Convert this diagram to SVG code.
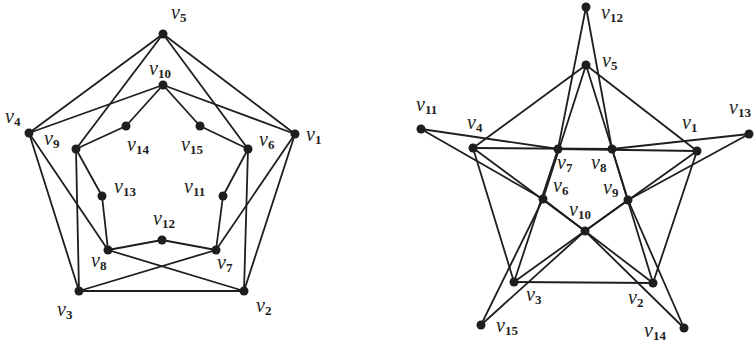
<svg xmlns="http://www.w3.org/2000/svg" width="756" height="345" viewBox="0 0 756 345">
<style>
.e{stroke:#1e1e1e;stroke-width:1.8;fill:none;stroke-linecap:round}
.n{fill:#1e1e1e}
.t{font-family:"Liberation Serif","DejaVu Serif",serif;font-style:italic;font-size:20px;fill:#1e1e1e}
.s{font-style:normal;font-weight:bold;font-size:13px}
</style>
<rect width="756" height="345" fill="#fff"/>
<g id="connectors-left">
<line class="e" x1="163" y1="34" x2="29" y2="133"/>
<line class="e" x1="163" y1="34" x2="295" y2="134"/>
<line class="e" x1="163" y1="34" x2="76" y2="149"/>
<line class="e" x1="163" y1="34" x2="248" y2="149"/>
<line class="e" x1="163" y1="85" x2="29" y2="133"/>
<line class="e" x1="163" y1="85" x2="295" y2="134"/>
<line class="e" x1="163" y1="85" x2="126" y2="126"/>
<line class="e" x1="163" y1="85" x2="200" y2="126"/>
<line class="e" x1="126" y1="126" x2="76" y2="149"/>
<line class="e" x1="200" y1="126" x2="248" y2="149"/>
<line class="e" x1="29" y1="133" x2="79" y2="291"/>
<line class="e" x1="29" y1="133" x2="108" y2="250"/>
<line class="e" x1="76" y1="149" x2="79" y2="291"/>
<line class="e" x1="76" y1="149" x2="102" y2="196"/>
<line class="e" x1="102" y1="196" x2="108" y2="250"/>
<line class="e" x1="108" y1="250" x2="162" y2="240"/>
<line class="e" x1="162" y1="240" x2="216" y2="250"/>
<line class="e" x1="108" y1="250" x2="244" y2="291"/>
<line class="e" x1="216" y1="250" x2="79" y2="291"/>
<line class="e" x1="79" y1="291" x2="244" y2="291"/>
<line class="e" x1="295" y1="134" x2="244" y2="291"/>
<line class="e" x1="295" y1="134" x2="216" y2="250"/>
<line class="e" x1="248" y1="149" x2="244" y2="291"/>
<line class="e" x1="248" y1="149" x2="223" y2="196"/>
<line class="e" x1="223" y1="196" x2="216" y2="250"/>
</g>
<g id="connectors-right">
<line class="e" x1="586" y1="65" x2="473" y2="148"/>
<line class="e" x1="586" y1="65" x2="697" y2="151"/>
<line class="e" x1="586" y1="65" x2="628" y2="200"/>
<line class="e" x1="586" y1="65" x2="543" y2="199"/>
<line class="e" x1="585" y1="231" x2="473" y2="148"/>
<line class="e" x1="585" y1="231" x2="697" y2="151"/>
<line class="e" x1="585" y1="231" x2="684" y2="328"/>
<line class="e" x1="585" y1="231" x2="481" y2="325"/>
<line class="e" x1="684" y1="328" x2="628" y2="200"/>
<line class="e" x1="481" y1="325" x2="543" y2="199"/>
<line class="e" x1="473" y1="148" x2="514" y2="282"/>
<line class="e" x1="473" y1="148" x2="612" y2="149"/>
<line class="e" x1="628" y1="200" x2="514" y2="282"/>
<line class="e" x1="628" y1="200" x2="749" y2="134"/>
<line class="e" x1="749" y1="134" x2="612" y2="149"/>
<line class="e" x1="612" y1="149" x2="586" y2="7"/>
<line class="e" x1="586" y1="7" x2="558" y2="149"/>
<line class="e" x1="612" y1="149" x2="653" y2="283"/>
<line class="e" x1="558" y1="149" x2="514" y2="282"/>
<line class="e" x1="514" y1="282" x2="653" y2="283"/>
<line class="e" x1="697" y1="151" x2="653" y2="283"/>
<line class="e" x1="697" y1="151" x2="558" y2="149"/>
<line class="e" x1="543" y1="199" x2="653" y2="283"/>
<line class="e" x1="543" y1="199" x2="421" y2="129"/>
<line class="e" x1="421" y1="129" x2="558" y2="149"/>
</g>
<g id="L-v1"><circle class="n" cx="295" cy="134" r="4.5"/><text class="t" x="306" y="141">v<tspan class="s" dy="3">1</tspan></text></g>
<g id="L-v2"><circle class="n" cx="244" cy="291" r="4.5"/><text class="t" x="256" y="312">v<tspan class="s" dy="3">2</tspan></text></g>
<g id="L-v3"><circle class="n" cx="79" cy="291" r="4.5"/><text class="t" x="57" y="316">v<tspan class="s" dy="3">3</tspan></text></g>
<g id="L-v4"><circle class="n" cx="29" cy="133" r="4.5"/><text class="t" x="5" y="123">v<tspan class="s" dy="3">4</tspan></text></g>
<g id="L-v5"><circle class="n" cx="163" cy="34" r="4.5"/><text class="t" x="171" y="19">v<tspan class="s" dy="3">5</tspan></text></g>
<g id="L-v6"><circle class="n" cx="248" cy="149" r="4.5"/><text class="t" x="259" y="146">v<tspan class="s" dy="3">6</tspan></text></g>
<g id="L-v7"><circle class="n" cx="216" cy="250" r="4.5"/><text class="t" x="217" y="269">v<tspan class="s" dy="3">7</tspan></text></g>
<g id="L-v8"><circle class="n" cx="108" cy="250" r="4.5"/><text class="t" x="91" y="267">v<tspan class="s" dy="3">8</tspan></text></g>
<g id="L-v9"><circle class="n" cx="76" cy="149" r="4.5"/><text class="t" x="44" y="145">v<tspan class="s" dy="3">9</tspan></text></g>
<g id="L-v10"><circle class="n" cx="163" cy="85" r="4.5"/><text class="t" x="149" y="75">v<tspan class="s" dy="3">10</tspan></text></g>
<g id="L-v11"><circle class="n" cx="223" cy="196" r="4.5"/><text class="t" x="184" y="193">v<tspan class="s" dy="3">11</tspan></text></g>
<g id="L-v12"><circle class="n" cx="162" cy="240" r="4.5"/><text class="t" x="153" y="225">v<tspan class="s" dy="3">12</tspan></text></g>
<g id="L-v13"><circle class="n" cx="102" cy="196" r="4.5"/><text class="t" x="114" y="193">v<tspan class="s" dy="3">13</tspan></text></g>
<g id="L-v14"><circle class="n" cx="126" cy="126" r="4.5"/><text class="t" x="127" y="151">v<tspan class="s" dy="3">14</tspan></text></g>
<g id="L-v15"><circle class="n" cx="200" cy="126" r="4.5"/><text class="t" x="181" y="151">v<tspan class="s" dy="3">15</tspan></text></g>
<g id="R-v1"><circle class="n" cx="697" cy="151" r="4.5"/><text class="t" x="682" y="129">v<tspan class="s" dy="3">1</tspan></text></g>
<g id="R-v2"><circle class="n" cx="653" cy="283" r="4.5"/><text class="t" x="628" y="304">v<tspan class="s" dy="3">2</tspan></text></g>
<g id="R-v3"><circle class="n" cx="514" cy="282" r="4.5"/><text class="t" x="526" y="301">v<tspan class="s" dy="3">3</tspan></text></g>
<g id="R-v4"><circle class="n" cx="473" cy="148" r="4.5"/><text class="t" x="467" y="129">v<tspan class="s" dy="3">4</tspan></text></g>
<g id="R-v5"><circle class="n" cx="586" cy="65" r="4.5"/><text class="t" x="602" y="67">v<tspan class="s" dy="3">5</tspan></text></g>
<g id="R-v6"><circle class="n" cx="543" cy="199" r="4.5"/><text class="t" x="553" y="192">v<tspan class="s" dy="3">6</tspan></text></g>
<g id="R-v7"><circle class="n" cx="558" cy="149" r="4.5"/><text class="t" x="557" y="169">v<tspan class="s" dy="3">7</tspan></text></g>
<g id="R-v8"><circle class="n" cx="612" cy="149" r="4.5"/><text class="t" x="591" y="169">v<tspan class="s" dy="3">8</tspan></text></g>
<g id="R-v9"><circle class="n" cx="628" cy="200" r="4.5"/><text class="t" x="603" y="194">v<tspan class="s" dy="3">9</tspan></text></g>
<g id="R-v10"><circle class="n" cx="585" cy="231" r="4.5"/><text class="t" x="569" y="216">v<tspan class="s" dy="3">10</tspan></text></g>
<g id="R-v11"><circle class="n" cx="421" cy="129" r="4.5"/><text class="t" x="416" y="111">v<tspan class="s" dy="3">11</tspan></text></g>
<g id="R-v12"><circle class="n" cx="586" cy="7" r="4.5"/><text class="t" x="601" y="19">v<tspan class="s" dy="3">12</tspan></text></g>
<g id="R-v13"><circle class="n" cx="749" cy="134" r="4.5"/><text class="t" x="729" y="114">v<tspan class="s" dy="3">13</tspan></text></g>
<g id="R-v14"><circle class="n" cx="684" cy="328" r="4.5"/><text class="t" x="644" y="337">v<tspan class="s" dy="3">14</tspan></text></g>
<g id="R-v15"><circle class="n" cx="481" cy="325" r="4.5"/><text class="t" x="496" y="332">v<tspan class="s" dy="3">15</tspan></text></g>
</svg>
